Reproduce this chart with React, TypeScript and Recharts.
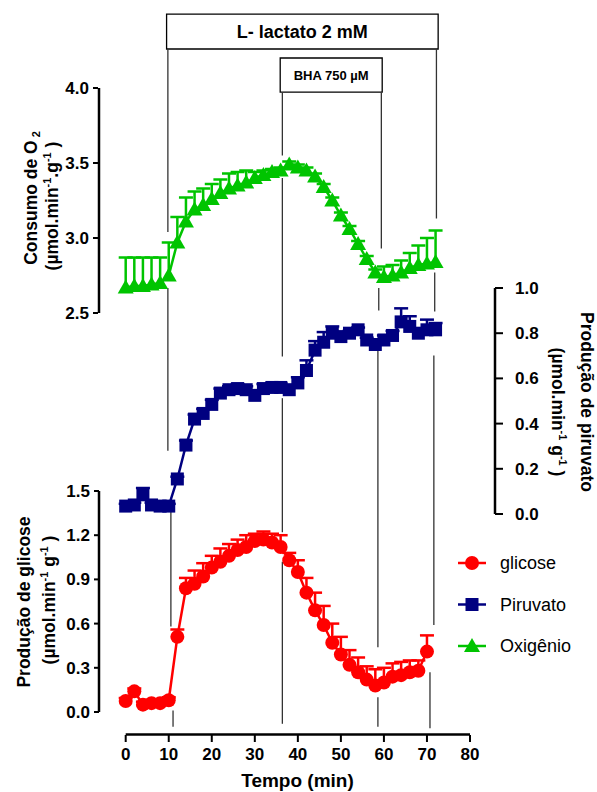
import React from "react";
import {
  ComposedChart,
  Line,
  Scatter,
  XAxis,
  YAxis,
  ErrorBar,
  ReferenceLine,
  ReferenceArea,
  Legend,
} from "recharts";

const FONT = '"Liberation Sans", Arial, Helvetica, sans-serif';
const RED = "#ff0000";
const NAVY = "#000080";
const GREEN = "#00c400";

// sampling times (min)
const TIME = [
  0, 2, 4, 6, 8, 10, 12, 14, 16, 18, 20, 22, 24, 26, 28, 30, 32, 34, 36,
  38, 40, 42, 44, 46, 48, 50, 52, 54, 56, 58, 60, 62, 64, 66, 68, 70, 72,
];

// glucose production, t = 0..70
const GLUCOSE = [
  0.075, 0.14, 0.05, 0.06, 0.06, 0.08, 0.51, 0.84, 0.87, 0.92, 0.98, 1.02,
  1.06, 1.1, 1.12, 1.16, 1.17, 1.15, 1.12, 1.03, 0.95, 0.81, 0.69, 0.59,
  0.47, 0.39, 0.32, 0.27, 0.22, 0.18, 0.2, 0.24, 0.25, 0.27, 0.28, 0.41,
];
const GLUCOSE_SEM = [
  0.02, 0.02, 0.02, 0.02, 0.02, 0.02, 0.05, 0.07, 0.09, 0.09, 0.08, 0.09,
  0.08, 0.07, 0.08, 0.05, 0.055, 0.06, 0.08, 0.05, 0.08, 0.1, 0.12, 0.13,
  0.13, 0.12, 0.1, 0.1, 0.09, 0.11, 0.1, 0.09, 0.09, 0.08, 0.07, 0.11,
];

// pyruvate production, t = 0..72
const PYRUVATE = [
  0.035, 0.04, 0.085, 0.04, 0.035, 0.035, 0.155, 0.305, 0.42, 0.445, 0.485,
  0.535, 0.55, 0.555, 0.55, 0.525, 0.555, 0.56, 0.56, 0.55, 0.58, 0.635,
  0.725, 0.76, 0.8, 0.785, 0.8, 0.815, 0.77, 0.75, 0.77, 0.79, 0.85, 0.83,
  0.8, 0.815, 0.815,
];
const PYRUVATE_SEM = [
  0.01, 0.01, 0.03, 0.01, 0.01, 0.01, 0.01, 0.02, 0.02, 0.02, 0.02, 0.02,
  0.015, 0.02, 0.015, 0.02, 0.02, 0.02, 0.02, 0.02, 0.025, 0.045, 0.04,
  0.045, 0.03, 0.01, 0.01, 0.01, 0.01, 0.02, 0.02, 0.02, 0.06, 0.045, 0.02,
  0.045, 0.03,
];

// O2 consumption, t = 0..72
const OXYGEN = [
  2.67, 2.68, 2.68, 2.69, 2.7, 2.75, 2.97, 3.11, 3.19, 3.22, 3.26, 3.3, 3.33,
  3.35, 3.37, 3.4, 3.42, 3.44, 3.45, 3.49, 3.47, 3.45, 3.41, 3.34, 3.25,
  3.15, 3.06, 2.96, 2.86, 2.77, 2.74, 2.75, 2.77, 2.8, 2.82, 2.83, 2.84,
];
const OXYGEN_SEM = [
  0.2, 0.19, 0.19, 0.18, 0.17, 0.22, 0.17, 0.16, 0.12, 0.11, 0.1, 0.09, 0.1,
  0.09, 0.08, 0.04, 0.03, 0.02, 0.02, 0.02, 0.02, 0.02, 0.02, 0.02, 0.02,
  0.02, 0.02, 0.02, 0.02, 0.02, 0.07, 0.07, 0.08, 0.1, 0.13, 0.17, 0.21,
];

const X_TICKS = [0, 10, 20, 30, 40, 50, 60, 70, 80];
const O2_TICKS = [2.5, 3.0, 3.5, 4.0];
const PYR_TICKS = [0, 0.2, 0.4, 0.6, 0.8, 1.0];
const GLU_TICKS = [0, 0.3, 0.6, 0.9, 1.2, 1.5];

// treatment boxes and hand-drawn guide lines (time, axis values)
const LACTATE_BOX = { t1: 9.5, t2: 72.6, y1: 4.493, y2: 4.26, text: "L- lactato 2 mM" };
const BHA_BOX = { t1: 35.9, t2: 59.6, y1: 4.2, y2: 3.973, text: "BHA 750 \u00b5M" };
const GUIDES = [
  { t: 9.8, axis: "o2", y1: 4.26, y2: 3.04 },
  { t: 9.8, axis: "pyr", y1: 1.0, y2: 0.28 },
  { t: 10.5, axis: "glu", y1: 1.42, y2: 0.58 },
  { t: 11.0, axis: "glu", y1: 0.01, y2: -0.1 },
  { t: 36.4, axis: "o2", y1: 3.97, y2: 3.55 },
  { t: 36.4, axis: "o2", y1: 3.4, y2: 2.21 },
  { t: 36.4, axis: "glu", y1: 2.13, y2: 1.22 },
  { t: 36.4, axis: "glu", y1: 1.02, y2: -0.08 },
  { t: 59.4, axis: "o2", y1: 3.97, y2: 2.93 },
  { t: 58.8, axis: "pyr", y1: 1.0, y2: 0.9 },
  { t: 58.6, axis: "glu", y1: 2.45, y2: 0.44 },
  { t: 58.6, axis: "glu", y1: 0.1, y2: -0.1 },
  { t: 72.2, axis: "o2", y1: 4.26, y2: 3.13 },
  { t: 71.8, axis: "o2", y1: 2.77, y2: 2.51 },
  { t: 71.6, axis: "glu", y1: 2.42, y2: 0.59 },
  { t: 70.7, axis: "glu", y1: 0.27, y2: -0.11 },
];

// ---- layout ----
const W = 597;
const H = 792;
const PLOT = { left: 99, right: 495, top: 10, bottom: 735 };
const AXIS_W = 1;

// straight line through two (value, px) anchors, evaluated at a px
const lerp = (v1: number, p1: number, v2: number, p2: number) => (p: number) =>
  v1 + ((p - p1) * (v2 - v1)) / (p2 - p1);

const xAt = lerp(0, 125.7, 80, 470);
const X_DOMAIN = [xAt(PLOT.left), xAt(PLOT.right)];
const o2At = lerp(4.0, 88, 2.5, 313);
const O2_DOMAIN = [o2At(PLOT.bottom), o2At(PLOT.top)];
const pyrAt = lerp(1.0, 288, 0, 514);
const PYR_DOMAIN = [pyrAt(PLOT.bottom), pyrAt(PLOT.top)];
const gluAt = lerp(1.5, 491, 0, 712);
const GLU_DOMAIN = [gluAt(PLOT.bottom), gluAt(PLOT.top)];

const gluRows = GLUCOSE.map((v, i) => ({
  t: TIME[i], glu: v, gluErr: [0, GLUCOSE_SEM[i]], gluTop: v + GLUCOSE_SEM[i],
}));
const pyrRows = PYRUVATE.map((v, i) => ({
  t: TIME[i], pyr: v, pyrErr: [0, PYRUVATE_SEM[i]], pyrTop: v + PYRUVATE_SEM[i],
}));
const o2Rows = OXYGEN.map((v, i) => ({
  t: TIME[i], o2: v, o2Err: [0, OXYGEN_SEM[i]], o2Top: v + OXYGEN_SEM[i],
}));

const tickStyle = { fill: "#000", fontSize: 17, fontWeight: 700, fontFamily: FONT };
const tickLine = { stroke: "#000", strokeWidth: 2 };
const fmt1 = (v: number) => v.toFixed(1);

const Marker = ({ shape, cx, cy, color }: any) => {
  if (cx == null || cy == null) return null;
  if (shape === "circle") return <circle cx={cx} cy={cy} r={7} fill={color} />;
  if (shape === "square")
    return <rect x={cx - 6.5} y={cy - 6.5} width={13} height={13} fill={color} />;
  return (
    <polygon
      points={`${cx},${cy - 8} ${cx - 8},${cy + 6} ${cx + 8},${cy + 6}`}
      fill={color}
    />
  );
};

const SHAPES: Record<string, string> = { glu: "circle", pyr: "square", o2: "triangle" };
const LEGEND_ORDER = ["glu", "pyr", "o2"];

const dotFor = (key: string, color: string) => (p: any) => (
  <Marker key={`${key}-${p.index}`} shape={SHAPES[key]} cx={p.cx} cy={p.cy} color={color} />
);

// top whisker cap of the SEM bar (Prism draws only the upper half)
const capFor = (color: string) => (p: any) =>
  p.cx == null ? (
    <g />
  ) : (
    <line x1={p.cx - 7} x2={p.cx + 7} y1={p.cy} y2={p.cy} stroke={color} strokeWidth={2.5} />
  );

const renderLegend = (props: any) => {
  const items = (props.payload || [])
    .filter((it: any) => LEGEND_ORDER.includes(it.dataKey))
    .sort((a: any, b: any) => LEGEND_ORDER.indexOf(a.dataKey) - LEGEND_ORDER.indexOf(b.dataKey));
  return (
    <svg width={147} height={125} style={{ display: "block" }}>
      {items.map((it: any, i: number) => {
        const cy = 20 + i * 41.5;
        return (
          <g key={it.dataKey}>
            <line x1={8} x2={36} y1={cy} y2={cy} stroke={it.color} strokeWidth={2.5} />
            <Marker shape={SHAPES[it.dataKey]} cx={22} cy={cy} color={it.color} />
            <text x={50} y={cy} dominantBaseline="central" fontFamily={FONT} fontSize={18} fill="#000">
              {it.value}
            </text>
          </g>
        );
      })}
    </svg>
  );
};

const titleProps = {
  textAnchor: "middle" as const,
  fontFamily: FONT,
  fontSize: 17.5,
  fontWeight: 700,
  fill: "#000",
};

const Unit = ({ dot }: { dot: boolean }) => (
  <>
    (µmol.min
    <tspan fontSize={11} dy={-7}>-1</tspan>
    <tspan dy={7}>{dot ? ".g" : " g"}</tspan>
    <tspan fontSize={11} dy={-7}>-1</tspan>
    <tspan dy={7}> )</tspan>
  </>
);

const o2Title = () => (
  <g>
    <text transform="translate(37,198) rotate(-90)" {...titleProps}>
      Consumo de O<tspan fontSize={11} dy={3}> 2</tspan>
    </text>
    <text transform="translate(58,206) rotate(-90)" {...titleProps}>
      <Unit dot />
    </text>
  </g>
);

const gluTitle = () => (
  <g>
    <text transform="translate(30,602) rotate(-90)" {...titleProps}>
      Produção de glicose
    </text>
    <text transform="translate(55,600) rotate(-90)" {...titleProps}>
      <Unit dot={false} />
    </text>
  </g>
);

const pyrTitle = () => (
  <g>
    <text transform="translate(581,402) rotate(90)" {...titleProps}>
      Produção de piruvato
    </text>
    <text transform="translate(552,412) rotate(90)" {...titleProps}>
      <Unit dot={false} />
    </text>
  </g>
);

const xTitle = () => (
  <text x={297.5} y={787} {...titleProps} fontSize={19}>
    Tempo (min)
  </text>
);

const boxLabel = (size: number) => ({
  position: "center" as const,
  fill: "#000",
  fontSize: size,
  fontWeight: 700,
  fontFamily: FONT,
});

export default function App() {
  const axisLineStyle = { stroke: "#000", strokeWidth: 2.5, ifOverflow: "visible" as const };
  return (
    <div style={{ position: "absolute", left: 0, top: 0, width: W, height: H, background: "#fff" }}>
      <ComposedChart
        width={W}
        height={H}
        margin={{
          top: PLOT.top,
          right: W - PLOT.right - AXIS_W,
          bottom: 0,
          left: PLOT.left - 2 * AXIS_W,
        }}
      >
        <XAxis
          type="number"
          dataKey="t"
          domain={X_DOMAIN}
          allowDataOverflow
          ticks={X_TICKS}
          interval={0}
          axisLine={false}
          tickLine={tickLine}
          tickSize={7}
          tickMargin={6}
          tick={tickStyle}
          height={H - PLOT.bottom}
          label={xTitle}
        />
        <YAxis
          yAxisId="glu"
          orientation="left"
          width={AXIS_W}
          domain={GLU_DOMAIN}
          allowDataOverflow
          ticks={GLU_TICKS}
          interval={0}
          tickFormatter={fmt1}
          axisLine={false}
          tickLine={tickLine}
          tickSize={5}
          tickMargin={4}
          tick={tickStyle}
          label={gluTitle}
        />
        <YAxis
          yAxisId="o2"
          orientation="left"
          width={AXIS_W}
          domain={O2_DOMAIN}
          allowDataOverflow
          ticks={O2_TICKS}
          interval={0}
          tickFormatter={fmt1}
          axisLine={false}
          tickLine={tickLine}
          tickSize={5}
          tickMargin={4}
          tick={tickStyle}
          label={o2Title}
        />
        <YAxis
          yAxisId="pyr"
          orientation="right"
          width={AXIS_W}
          domain={PYR_DOMAIN}
          allowDataOverflow
          ticks={PYR_TICKS}
          interval={0}
          tickFormatter={fmt1}
          axisLine={false}
          tickLine={tickLine}
          tickSize={8}
          tickMargin={12}
          tick={tickStyle}
          label={pyrTitle}
        />

        <ReferenceArea
          yAxisId="o2"
          x1={LACTATE_BOX.t1}
          x2={LACTATE_BOX.t2}
          y1={LACTATE_BOX.y1}
          y2={LACTATE_BOX.y2}
          fill="#fff"
          fillOpacity={1}
          stroke="#000"
          strokeWidth={1.3}
          ifOverflow="visible"
          label={{ value: LACTATE_BOX.text, ...boxLabel(18) }}
        />
        <ReferenceArea
          yAxisId="o2"
          x1={BHA_BOX.t1}
          x2={BHA_BOX.t2}
          y1={BHA_BOX.y1}
          y2={BHA_BOX.y2}
          fill="#fff"
          fillOpacity={1}
          stroke="#000"
          strokeWidth={1.3}
          ifOverflow="visible"
          label={{ value: BHA_BOX.text, ...boxLabel(13) }}
        />

        {GUIDES.map((g, i) => (
          <ReferenceLine
            key={`guide-${i}`}
            yAxisId={g.axis}
            segment={[
              { x: g.t, y: g.y1 },
              { x: g.t, y: g.y2 },
            ]}
            stroke="#333"
            strokeWidth={1.3}
            ifOverflow="visible"
          />
        ))}

        {/* broken axis lines */}
        <ReferenceLine
          yAxisId="o2"
          segment={[
            { x: X_DOMAIN[0], y: O2_TICKS[0] },
            { x: X_DOMAIN[0], y: O2_TICKS[O2_TICKS.length - 1] },
          ]}
          {...axisLineStyle}
        />
        <ReferenceLine
          yAxisId="glu"
          segment={[
            { x: X_DOMAIN[0], y: GLU_TICKS[0] },
            { x: X_DOMAIN[0], y: GLU_TICKS[GLU_TICKS.length - 1] },
          ]}
          {...axisLineStyle}
        />
        <ReferenceLine
          yAxisId="pyr"
          segment={[
            { x: X_DOMAIN[1], y: PYR_TICKS[0] },
            { x: X_DOMAIN[1], y: PYR_TICKS[PYR_TICKS.length - 1] },
          ]}
          {...axisLineStyle}
        />
        <ReferenceLine
          yAxisId="glu"
          segment={[
            { x: X_TICKS[0], y: GLU_DOMAIN[0] + 0.004 },
            { x: X_TICKS[X_TICKS.length - 1], y: GLU_DOMAIN[0] + 0.004 },
          ]}
          {...axisLineStyle}
        />

        {/* SEM caps, under the markers */}
        <Scatter yAxisId="glu" data={gluRows} dataKey="gluTop" shape={capFor(RED)} legendType="none" isAnimationActive={false} />
        <Scatter yAxisId="pyr" data={pyrRows} dataKey="pyrTop" shape={capFor(NAVY)} legendType="none" isAnimationActive={false} />
        <Scatter yAxisId="o2" data={o2Rows} dataKey="o2Top" shape={capFor(GREEN)} legendType="none" isAnimationActive={false} />

        <Line
          yAxisId="glu"
          data={gluRows}
          dataKey="glu"
          name="glicose"
          stroke={RED}
          strokeWidth={2.5}
          dot={dotFor("glu", RED)}
          activeDot={false}
          isAnimationActive={false}
        >
          <ErrorBar dataKey="gluErr" direction="y" width={0} stroke={RED} strokeWidth={2.5} isAnimationActive={false} />
        </Line>
        <Line
          yAxisId="pyr"
          data={pyrRows}
          dataKey="pyr"
          name="Piruvato"
          stroke={NAVY}
          strokeWidth={2.5}
          dot={dotFor("pyr", NAVY)}
          activeDot={false}
          isAnimationActive={false}
        >
          <ErrorBar dataKey="pyrErr" direction="y" width={0} stroke={NAVY} strokeWidth={2.5} isAnimationActive={false} />
        </Line>
        <Line
          yAxisId="o2"
          data={o2Rows}
          dataKey="o2"
          name="Oxigênio"
          stroke={GREEN}
          strokeWidth={2.5}
          dot={dotFor("o2", GREEN)}
          activeDot={false}
          isAnimationActive={false}
        >
          <ErrorBar dataKey="o2Err" direction="y" width={0} stroke={GREEN} strokeWidth={2.5} isAnimationActive={false} />
        </Line>

        <Legend
          layout="vertical"
          align="center"
          verticalAlign="middle"
          content={renderLegend}
          wrapperStyle={{ position: "absolute", left: 450, top: 543, width: 147, height: 125 }}
        />
      </ComposedChart>
    </div>
  );
}
